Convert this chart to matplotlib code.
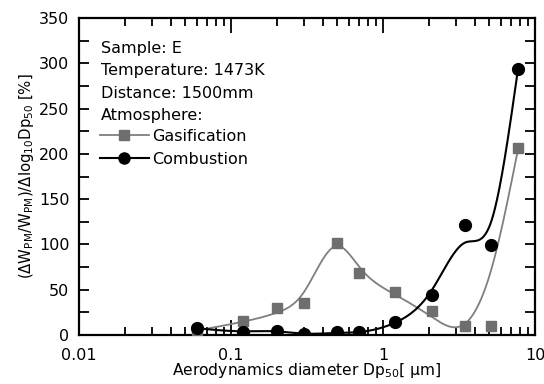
import numpy as np
import matplotlib
matplotlib.use("Agg")
import matplotlib.pyplot as plt
from matplotlib.ticker import LogLocator, FixedLocator, FixedFormatter, MultipleLocator, NullFormatter

plt.rcParams['font.family'] = ['DejaVu Sans']
plt.rcParams['mathtext.default'] = 'regular'

# ---- data ----
diameter = [0.06, 0.12, 0.2, 0.3, 0.5, 0.7, 1.2, 2.1, 3.47, 5.16, 7.73]
gasification = [5, 15, 30, 35.5, 102, 69, 47.5, 26.5, 10, 10, 206]
combustion = [7.4, 3.7, 4.8, 0.8, 3, 3, 14.3, 44, 122, 99, 294]
x_tick_values = [0.01, 0.1, 1, 10]
x_tick_labels = ["0.01", "0.1", "1", "10"]
y_tick_values = [0, 50, 100, 150, 200, 250, 300, 350]
info_lines = ["Sample: E", "Temperature: 1473K", "Distance: 1500mm", "Atmosphere:"]

# smoothing-fit settings (per-point fit weights)
gas_fit_weights = [50, 5, 5, 10, 50, 20, 5, 5, 8, 1, 50]
comb_fit_weights = [50, 1, 1, 1, 1, 1, 1, 1, 1, 1, 50]


def smooth_curve(x, y, lam, w, n=600):
    """Penalized smoothing spline (Whittaker smoother) on a log-x grid."""
    u = np.log10(np.asarray(x, float))
    y = np.asarray(y, float)
    grid = np.linspace(u.min(), u.max(), n)
    h = grid[1] - grid[0]
    idx = np.round((u - grid[0]) / h).astype(int)
    w = np.asarray(w, float)
    W = np.zeros(n)
    Wy = np.zeros(n)
    np.add.at(W, idx, w)
    np.add.at(Wy, idx, w * y)
    D = np.diff(np.eye(n), 2, axis=0)
    A = np.diag(W) + (lam / h ** 3) * (D.T @ D)
    z = np.linalg.solve(A, Wy)
    return 10 ** grid, z


fig = plt.figure(figsize=(5.44, 3.84), dpi=100)
ax = fig.add_axes([0.1452, 0.1276, 0.8383, 0.8255])

gray_line = '#7f7f7f'
gray_mark = '#6e6e6e'

gx, gy = smooth_curve(diameter, gasification, 3e-3, gas_fit_weights)
cx, cy = smooth_curve(diameter, combustion, 2.5e-4, comb_fit_weights)
ax.plot(gx, gy, color=gray_line, lw=1.3, zorder=2)
ax.plot(cx, cy, color='black', lw=1.5, zorder=2)
ax.plot(diameter, gasification, ls='none', marker='s', ms=7.5, color=gray_mark, zorder=3)
ax.plot(diameter, combustion, ls='none', marker='o', ms=8.5, color='black', zorder=4)

# legend proxies
ax.plot([], [], color=gray_line, lw=1.3, marker='s', ms=7, mfc=gray_mark, mec=gray_mark, label='Gasification')
ax.plot([], [], color='black', lw=1.5, marker='o', ms=8, label='Combustion')

ax.set_xscale('log')
ax.set_xlim(0.01, 10)
ax.set_ylim(0, 350)
ax.xaxis.set_major_locator(FixedLocator(x_tick_values))
ax.xaxis.set_major_formatter(FixedFormatter(x_tick_labels))
ax.xaxis.set_minor_locator(LogLocator(base=10, subs=np.arange(2, 10)))
ax.xaxis.set_minor_formatter(NullFormatter())
ax.set_yticks(y_tick_values)
ax.yaxis.set_minor_locator(MultipleLocator(25))

for s in ax.spines.values():
    s.set_linewidth(1.6)
ax.tick_params(axis='both', which='both', direction='in', top=True, right=True,
               labelsize=11.5, width=1.3)
ax.tick_params(axis='x', which='major', length=11, pad=9)
ax.tick_params(axis='x', which='minor', length=6)
ax.tick_params(axis='y', which='major', length=7, pad=7)
ax.tick_params(axis='y', which='minor', length=7)

ax.set_xlabel(r'Aerodynamics diameter Dp$_{50}$[ μm]', fontsize=11.2, labelpad=-1)
ax.set_ylabel(r'($\Delta$W$_{PM}$/W$_{PM}$)/$\Delta$log$_{10}$Dp$_{50}$ [%]', fontsize=10.7, labelpad=2)

for i, t in enumerate(info_lines):
    ax.text(0.048, 0.905 - i * 0.071, t, transform=ax.transAxes, fontsize=11.5,
            ha='left', va='center')

leg = ax.legend(loc='upper left', bbox_to_anchor=(0.045, 0.65), frameon=False,
                fontsize=11.5, handlelength=3.1, handletextpad=0.2, labelspacing=0.5,
                borderpad=0, borderaxespad=0)

fig.savefig('out.png', dpi=100)
